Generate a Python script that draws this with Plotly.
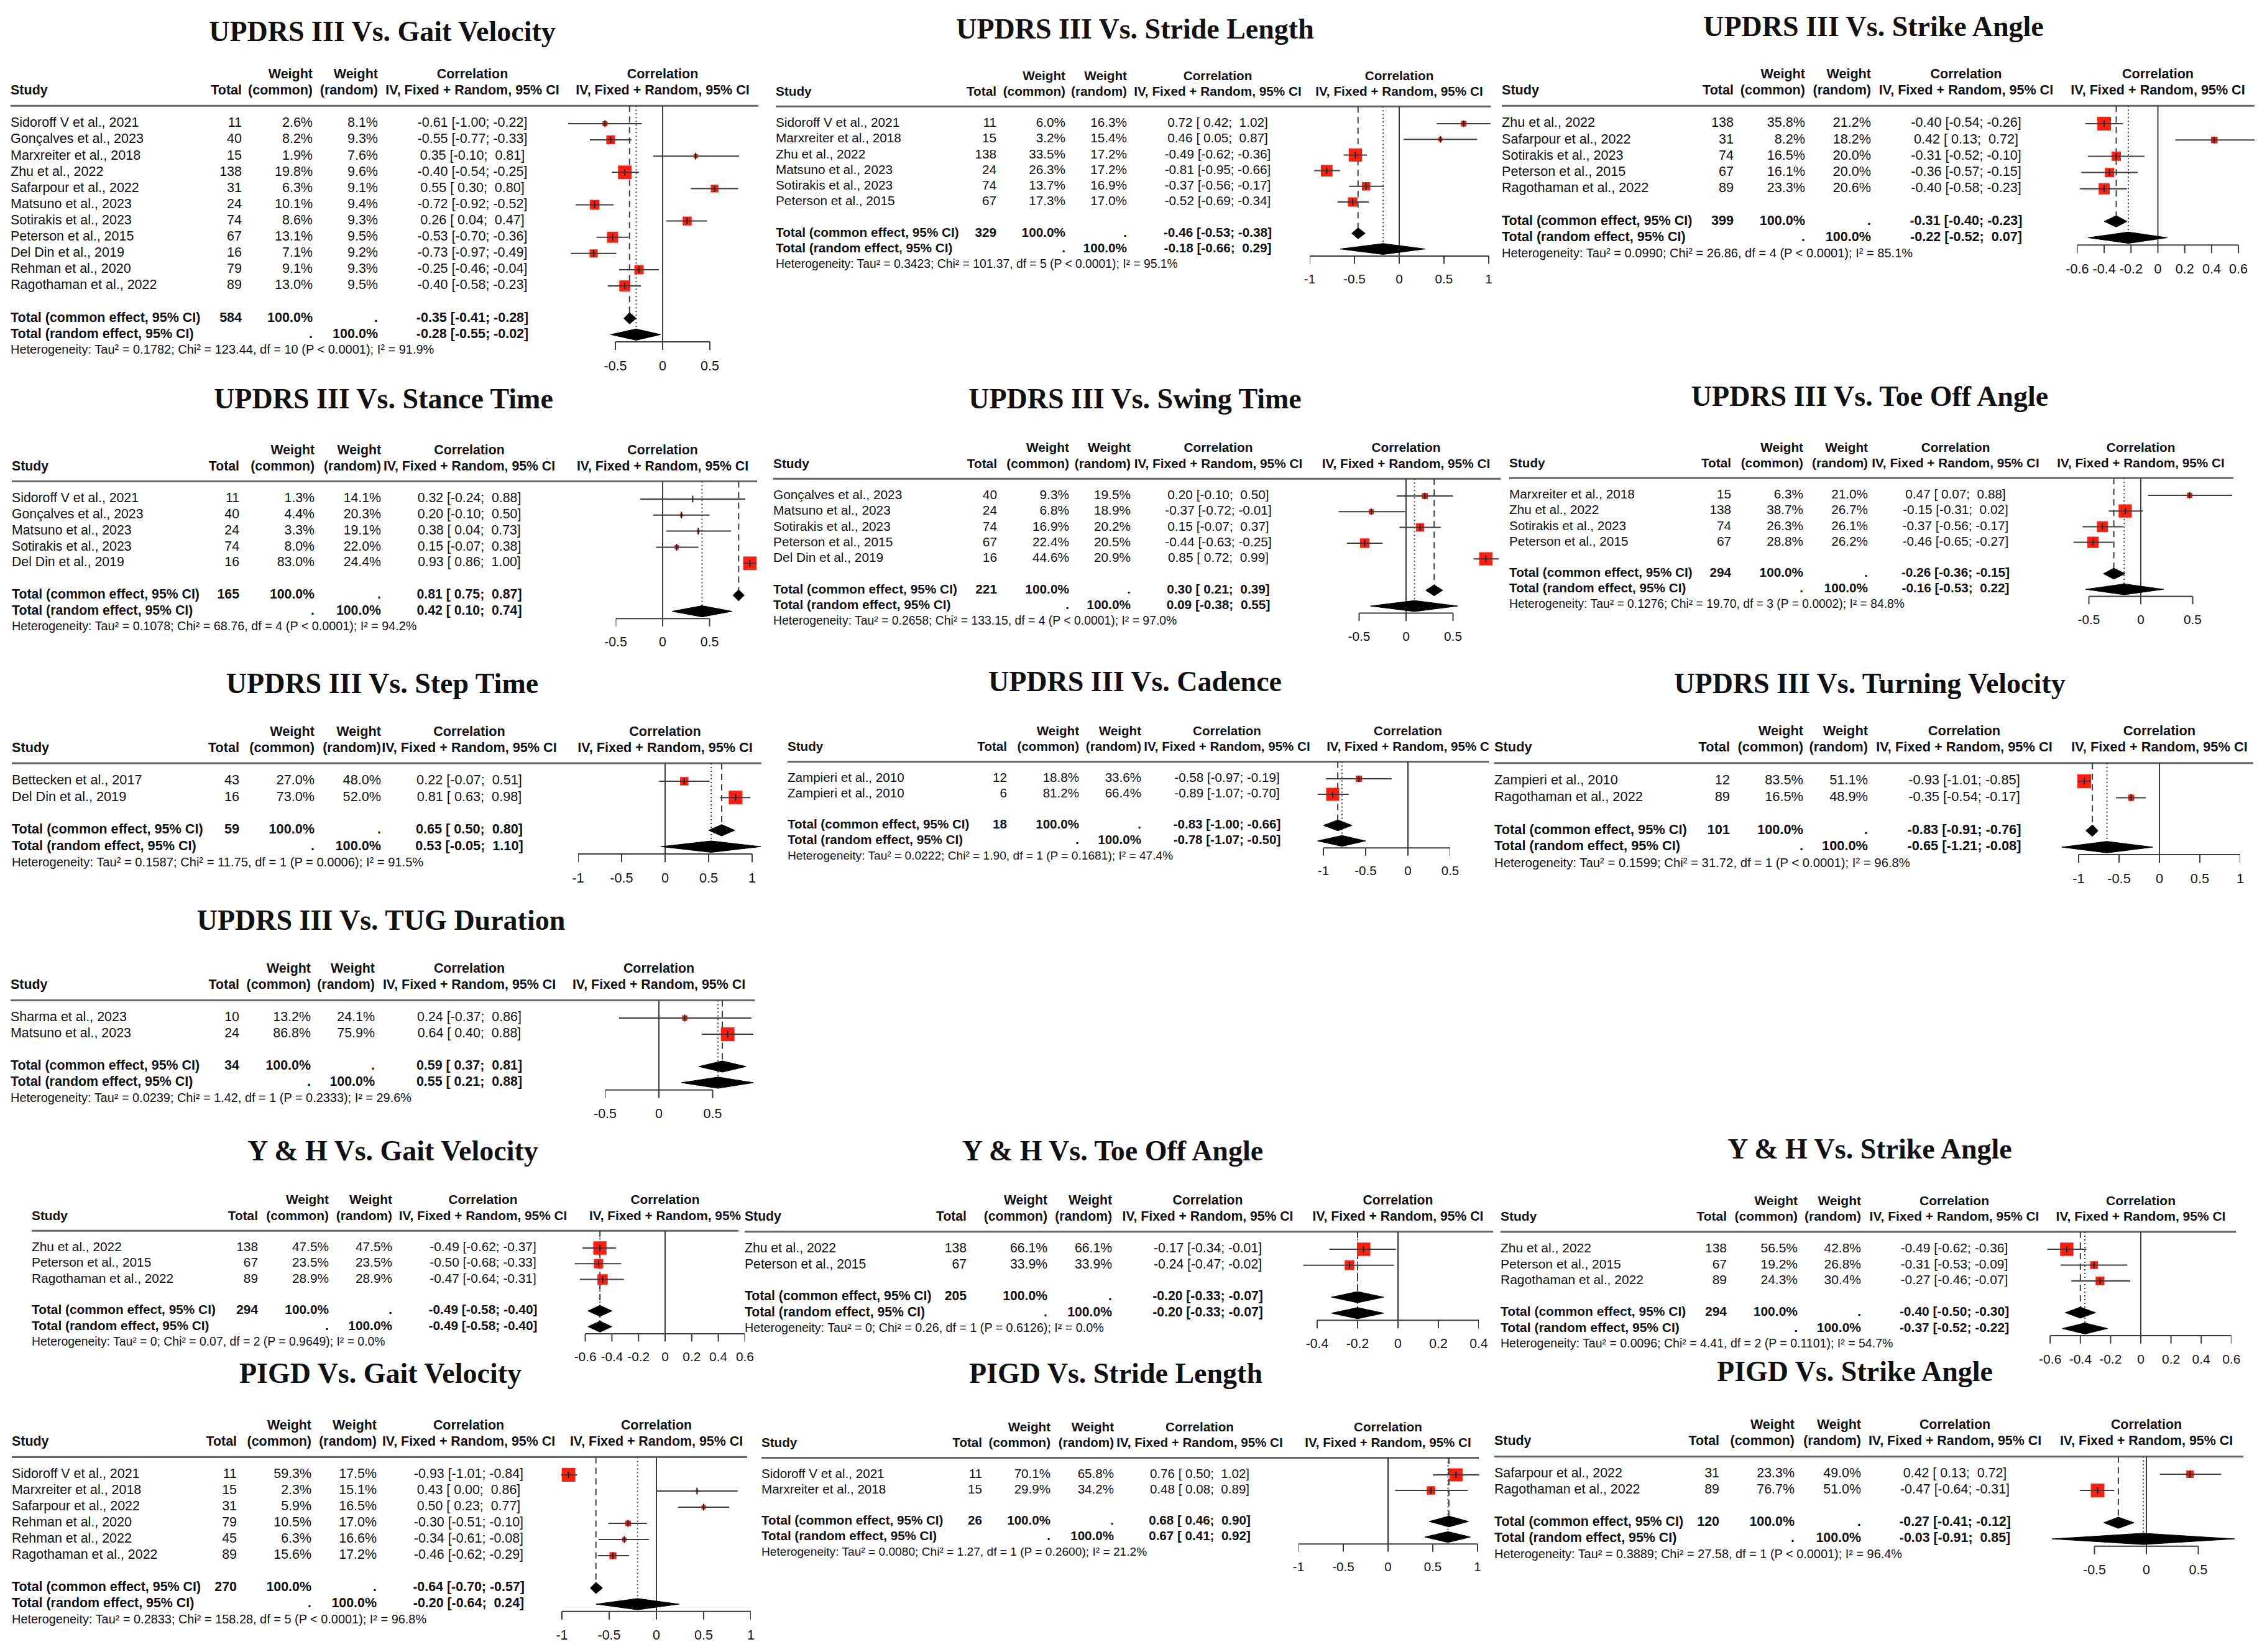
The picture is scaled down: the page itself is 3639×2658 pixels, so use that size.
import plotly.graph_objects as go

FIG_W, FIG_H = 3639, 2658
RED = "rgb(255,30,16)"
INK = "#111111"
GREY = "#3c3c3c"
SANS = "Liberation Sans, Arial, Helvetica, sans-serif"
SERIF = "Liberation Serif, Times New Roman, serif"
IV = "IV, Fixed + Random, 95% CI"

# ============================================================================
# DATA  (pooled = [N, common r, lo, hi, random r, lo, hi])
# ============================================================================

# UPDRS III vs gait velocity
ug_gait_study = ["Sidoroff V et al., 2021", "Gonçalves et al., 2023", "Marxreiter et al., 2018",
                 "Zhu et al., 2022", "Safarpour et al., 2022", "Matsuno et al., 2023",
                 "Sotirakis et al., 2023", "Peterson et al., 2015", "Del Din et al., 2019",
                 "Rehman et al., 2020", "Ragothaman et al., 2022"]
ug_gait_total = [11, 40, 15, 138, 31, 24, 74, 67, 16, 79, 89]
ug_gait_wc = [2.6, 8.2, 1.9, 19.8, 6.3, 10.1, 8.6, 13.1, 7.1, 9.1, 13.0]
ug_gait_wr = [8.1, 9.3, 7.6, 9.6, 9.1, 9.4, 9.3, 9.5, 9.2, 9.3, 9.5]
ug_gait_r = [-0.61, -0.55, 0.35, -0.40, 0.55, -0.72, 0.26, -0.53, -0.73, -0.25, -0.40]
ug_gait_lo = [-1.00, -0.77, -0.10, -0.54, 0.30, -0.92, 0.04, -0.70, -0.97, -0.46, -0.58]
ug_gait_hi = [-0.22, -0.33, 0.81, -0.25, 0.80, -0.52, 0.47, -0.36, -0.49, -0.04, -0.23]
ug_gait_pooled = [584, -0.35, -0.41, -0.28, -0.28, -0.55, -0.02]
ug_gait_het = ["0.1782", "123.44", "10", "P &lt; 0.0001", "91.9%"]
ug_gait_ticks = [-0.5, 0, 0.5]

# UPDRS III vs stride length
ug_stride_study = ["Sidoroff V et al., 2021", "Marxreiter et al., 2018", "Zhu et al., 2022",
                   "Matsuno et al., 2023", "Sotirakis et al., 2023", "Peterson et al., 2015"]
ug_stride_total = [11, 15, 138, 24, 74, 67]
ug_stride_wc = [6.0, 3.2, 33.5, 26.3, 13.7, 17.3]
ug_stride_wr = [16.3, 15.4, 17.2, 17.2, 16.9, 17.0]
ug_stride_r = [0.72, 0.46, -0.49, -0.81, -0.37, -0.52]
ug_stride_lo = [0.42, 0.05, -0.62, -0.95, -0.56, -0.69]
ug_stride_hi = [1.02, 0.87, -0.36, -0.66, -0.17, -0.34]
ug_stride_pooled = [329, -0.46, -0.53, -0.38, -0.18, -0.66, 0.29]
ug_stride_het = ["0.3423", "101.37", "5", "P &lt; 0.0001", "95.1%"]
ug_stride_ticks = [-1, -0.5, 0, 0.5, 1]

# UPDRS III vs strike angle
ug_strike_study = ["Zhu et al., 2022", "Safarpour et al., 2022", "Sotirakis et al., 2023",
                   "Peterson et al., 2015", "Ragothaman et al., 2022"]
ug_strike_total = [138, 31, 74, 67, 89]
ug_strike_wc = [35.8, 8.2, 16.5, 16.1, 23.3]
ug_strike_wr = [21.2, 18.2, 20.0, 20.0, 20.6]
ug_strike_r = [-0.40, 0.42, -0.31, -0.36, -0.40]
ug_strike_lo = [-0.54, 0.13, -0.52, -0.57, -0.58]
ug_strike_hi = [-0.26, 0.72, -0.10, -0.15, -0.23]
ug_strike_pooled = [399, -0.31, -0.40, -0.23, -0.22, -0.52, 0.07]
ug_strike_het = ["0.0990", "26.86", "4", "P &lt; 0.0001", "85.1%"]
ug_strike_ticks = [-0.6, -0.4, -0.2, 0, 0.2, 0.4, 0.6]

# UPDRS III vs stance time
ug_stance_study = ["Sidoroff V et al., 2021", "Gonçalves et al., 2023", "Matsuno et al., 2023",
                   "Sotirakis et al., 2023", "Del Din et al., 2019"]
ug_stance_total = [11, 40, 24, 74, 16]
ug_stance_wc = [1.3, 4.4, 3.3, 8.0, 83.0]
ug_stance_wr = [14.1, 20.3, 19.1, 22.0, 24.4]
ug_stance_r = [0.32, 0.20, 0.38, 0.15, 0.93]
ug_stance_lo = [-0.24, -0.10, 0.04, -0.07, 0.86]
ug_stance_hi = [0.88, 0.50, 0.73, 0.38, 1.00]
ug_stance_pooled = [165, 0.81, 0.75, 0.87, 0.42, 0.10, 0.74]
ug_stance_het = ["0.1078", "68.76", "4", "P &lt; 0.0001", "94.2%"]
ug_stance_ticks = [-0.5, 0, 0.5]

# UPDRS III vs swing time
ug_swing_study = ["Gonçalves et al., 2023", "Matsuno et al., 2023", "Sotirakis et al., 2023",
                  "Peterson et al., 2015", "Del Din et al., 2019"]
ug_swing_total = [40, 24, 74, 67, 16]
ug_swing_wc = [9.3, 6.8, 16.9, 22.4, 44.6]
ug_swing_wr = [19.5, 18.9, 20.2, 20.5, 20.9]
ug_swing_r = [0.20, -0.37, 0.15, -0.44, 0.85]
ug_swing_lo = [-0.10, -0.72, -0.07, -0.63, 0.72]
ug_swing_hi = [0.50, -0.01, 0.37, -0.25, 0.99]
ug_swing_pooled = [221, 0.30, 0.21, 0.39, 0.09, -0.38, 0.55]
ug_swing_het = ["0.2658", "133.15", "4", "P &lt; 0.0001", "97.0%"]
ug_swing_ticks = [-0.5, 0, 0.5]

# UPDRS III vs toe off angle
ug_toe_study = ["Marxreiter et al., 2018", "Zhu et al., 2022", "Sotirakis et al., 2023",
                "Peterson et al., 2015"]
ug_toe_total = [15, 138, 74, 67]
ug_toe_wc = [6.3, 38.7, 26.3, 28.8]
ug_toe_wr = [21.0, 26.7, 26.1, 26.2]
ug_toe_r = [0.47, -0.15, -0.37, -0.46]
ug_toe_lo = [0.07, -0.31, -0.56, -0.65]
ug_toe_hi = [0.88, 0.02, -0.17, -0.27]
ug_toe_pooled = [294, -0.26, -0.36, -0.15, -0.16, -0.53, 0.22]
ug_toe_het = ["0.1276", "19.70", "3", "P = 0.0002", "84.8%"]
ug_toe_ticks = [-0.5, 0, 0.5]

# UPDRS III vs step time
ug_step_study = ["Bettecken et al., 2017", "Del Din et al., 2019"]
ug_step_total = [43, 16]
ug_step_wc = [27.0, 73.0]
ug_step_wr = [48.0, 52.0]
ug_step_r = [0.22, 0.81]
ug_step_lo = [-0.07, 0.63]
ug_step_hi = [0.51, 0.98]
ug_step_pooled = [59, 0.65, 0.50, 0.80, 0.53, -0.05, 1.10]
ug_step_het = ["0.1587", "11.75", "1", "P = 0.0006", "91.5%"]
ug_step_ticks = [-1, -0.5, 0, 0.5, 1]

# UPDRS III vs cadence
ug_cad_study = ["Zampieri et al., 2010", "Zampieri et al., 2010"]
ug_cad_total = [12, 6]
ug_cad_wc = [18.8, 81.2]
ug_cad_wr = [33.6, 66.4]
ug_cad_r = [-0.58, -0.89]
ug_cad_lo = [-0.97, -1.07]
ug_cad_hi = [-0.19, -0.70]
ug_cad_pooled = [18, -0.83, -1.00, -0.66, -0.78, -1.07, -0.50]
ug_cad_het = ["0.0222", "1.90", "1", "P = 0.1681", "47.4%"]
ug_cad_ticks = [-1, -0.5, 0, 0.5]

# UPDRS III vs turning velocity
ug_turn_study = ["Zampieri et al., 2010", "Ragothaman et al., 2022"]
ug_turn_total = [12, 89]
ug_turn_wc = [83.5, 16.5]
ug_turn_wr = [51.1, 48.9]
ug_turn_r = [-0.93, -0.35]
ug_turn_lo = [-1.01, -0.54]
ug_turn_hi = [-0.85, -0.17]
ug_turn_pooled = [101, -0.83, -0.91, -0.76, -0.65, -1.21, -0.08]
ug_turn_het = ["0.1599", "31.72", "1", "P &lt; 0.0001", "96.8%"]
ug_turn_ticks = [-1, -0.5, 0, 0.5, 1]

# UPDRS III vs TUG duration
ug_tug_study = ["Sharma et al., 2023", "Matsuno et al., 2023"]
ug_tug_total = [10, 24]
ug_tug_wc = [13.2, 86.8]
ug_tug_wr = [24.1, 75.9]
ug_tug_r = [0.24, 0.64]
ug_tug_lo = [-0.37, 0.40]
ug_tug_hi = [0.86, 0.88]
ug_tug_pooled = [34, 0.59, 0.37, 0.81, 0.55, 0.21, 0.88]
ug_tug_het = ["0.0239", "1.42", "1", "P = 0.2333", "29.6%"]
ug_tug_ticks = [-0.5, 0, 0.5]

# Y & H vs gait velocity
yh_gait_study = ["Zhu et al., 2022", "Peterson et al., 2015", "Ragothaman et al., 2022"]
yh_gait_total = [138, 67, 89]
yh_gait_wc = [47.5, 23.5, 28.9]
yh_gait_wr = [47.5, 23.5, 28.9]
yh_gait_r = [-0.49, -0.50, -0.47]
yh_gait_lo = [-0.62, -0.68, -0.64]
yh_gait_hi = [-0.37, -0.33, -0.31]
yh_gait_pooled = [294, -0.49, -0.58, -0.40, -0.49, -0.58, -0.40]
yh_gait_het = ["0", "0.07", "2", "P = 0.9649", "0.0%"]
yh_gait_ticks = [-0.6, -0.4, -0.2, 0, 0.2, 0.4, 0.6]

# Y & H vs toe off angle
yh_toe_study = ["Zhu et al., 2022", "Peterson et al., 2015"]
yh_toe_total = [138, 67]
yh_toe_wc = [66.1, 33.9]
yh_toe_wr = [66.1, 33.9]
yh_toe_r = [-0.17, -0.24]
yh_toe_lo = [-0.34, -0.47]
yh_toe_hi = [-0.01, -0.02]
yh_toe_pooled = [205, -0.20, -0.33, -0.07, -0.20, -0.33, -0.07]
yh_toe_het = ["0", "0.26", "1", "P = 0.6126", "0.0%"]
yh_toe_ticks = [-0.4, -0.2, 0, 0.2, 0.4]

# Y & H vs strike angle
yh_strike_study = ["Zhu et al., 2022", "Peterson et al., 2015", "Ragothaman et al., 2022"]
yh_strike_total = [138, 67, 89]
yh_strike_wc = [56.5, 19.2, 24.3]
yh_strike_wr = [42.8, 26.8, 30.4]
yh_strike_r = [-0.49, -0.31, -0.27]
yh_strike_lo = [-0.62, -0.53, -0.46]
yh_strike_hi = [-0.36, -0.09, -0.07]
yh_strike_pooled = [294, -0.40, -0.50, -0.30, -0.37, -0.52, -0.22]
yh_strike_het = ["0.0096", "4.41", "2", "P = 0.1101", "54.7%"]
yh_strike_ticks = [-0.6, -0.4, -0.2, 0, 0.2, 0.4, 0.6]

# PIGD vs gait velocity
pg_gait_study = ["Sidoroff V et al., 2021", "Marxreiter et al., 2018", "Safarpour et al., 2022",
                 "Rehman et al., 2020", "Rehman et al., 2022", "Ragothaman et al., 2022"]
pg_gait_total = [11, 15, 31, 79, 45, 89]
pg_gait_wc = [59.3, 2.3, 5.9, 10.5, 6.3, 15.6]
pg_gait_wr = [17.5, 15.1, 16.5, 17.0, 16.6, 17.2]
pg_gait_r = [-0.93, 0.43, 0.50, -0.30, -0.34, -0.46]
pg_gait_lo = [-1.01, 0.00, 0.23, -0.51, -0.61, -0.62]
pg_gait_hi = [-0.84, 0.86, 0.77, -0.10, -0.08, -0.29]
pg_gait_pooled = [270, -0.64, -0.70, -0.57, -0.20, -0.64, 0.24]
pg_gait_het = ["0.2833", "158.28", "5", "P &lt; 0.0001", "96.8%"]
pg_gait_ticks = [-1, -0.5, 0, 0.5, 1]

# PIGD vs stride length
pg_stride_study = ["Sidoroff V et al., 2021", "Marxreiter et al., 2018"]
pg_stride_total = [11, 15]
pg_stride_wc = [70.1, 29.9]
pg_stride_wr = [65.8, 34.2]
pg_stride_r = [0.76, 0.48]
pg_stride_lo = [0.50, 0.08]
pg_stride_hi = [1.02, 0.89]
pg_stride_pooled = [26, 0.68, 0.46, 0.90, 0.67, 0.41, 0.92]
pg_stride_het = ["0.0080", "1.27", "1", "P = 0.2600", "21.2%"]
pg_stride_ticks = [-1, -0.5, 0, 0.5, 1]

# PIGD vs strike angle
pg_strike_study = ["Safarpour et al., 2022", "Ragothaman et al., 2022"]
pg_strike_total = [31, 89]
pg_strike_wc = [23.3, 76.7]
pg_strike_wr = [49.0, 51.0]
pg_strike_r = [0.42, -0.47]
pg_strike_lo = [0.13, -0.64]
pg_strike_hi = [0.72, -0.31]
pg_strike_pooled = [120, -0.27, -0.41, -0.12, -0.03, -0.91, 0.85]
pg_strike_het = ["0.3889", "27.58", "1", "P &lt; 0.0001", "96.4%"]
pg_strike_ticks = [-0.5, 0, 0.5]


# ============================================================================
# HELPERS
# ============================================================================

def corr_text(r, lo, hi):
    def pad(v):
        s = f"{v:.2f}"
        return s if v < 0 else "\u00a0" + s
    return f"{r:.2f} [{pad(lo)}; {pad(hi)}]"


def add_text(fig, xa, ya, xs, ys, texts, pos, size, family=SANS):
    fig.add_trace(go.Scatter(
        x=xs, y=ys, text=texts, mode="text", textposition=pos,
        textfont=dict(family=family, size=size, color=INK),
        xaxis=xa, yaxis=ya, hoverinfo="skip", showlegend=False, cliponaxis=False))


def add_line(fig, xa, ya, xs, ys, width, color, dash="solid"):
    fig.add_trace(go.Scatter(
        x=xs, y=ys, mode="lines", line=dict(width=width, color=color, dash=dash),
        xaxis=xa, yaxis=ya, hoverinfo="skip", showlegend=False, cliponaxis=False))


def b(s):
    return f"<b>{s}</b>"


def add_panel(fig, k, title, study, total, wc, wr, r, lo, hi, pooled, het, ticks, g, iv_head=IV):
    n = len(study)
    N, c_r, c_lo, c_hi, r_r, r_lo, r_hi = pooled
    y0, h = g["y0"], g["h"]
    fs = 21.5 * h / 26.1
    ya = "y" if k == 1 else f"y{k}"
    xf = f"x{k + 1}"

    # row axis (rows grow downwards) and forest value axis
    r_top, r_bot = -6.8, n + 4.7
    top_px, bot_px = y0 + r_top * h, y0 + r_bot * h
    fig.update_layout(**{("yaxis" if k == 1 else f"yaxis{k}"): dict(
        domain=[1 - bot_px / FIG_H, 1 - top_px / FIG_H], range=[r_bot, r_top],
        visible=False, anchor="x", fixedrange=True)})
    vmin = min(min(lo), c_lo, r_lo, ticks[0])
    vmax = max(max(hi), c_hi, r_hi, ticks[-1])
    fig.update_layout(**{f"xaxis{k + 1}": dict(
        domain=[(g["zero"] + vmin * g["ppu"]) / FIG_W, (g["zero"] + vmax * g["ppu"]) / FIG_W],
        range=[vmin, vmax], visible=False, anchor=ya, fixedrange=True)})

    rows = list(range(n))
    row_c, row_r = n + 1, n + 2
    axis_row = n + 2.45

    # reference lines and heading rule
    add_line(fig, xf, ya, [0, 0], [-1.1, axis_row], 2, GREY)
    add_line(fig, xf, ya, [c_r, c_r], [-1.1, row_c], 2, GREY, "10px,7px")
    add_line(fig, xf, ya, [r_r, r_r], [-1.1, row_r], 2, GREY, "2px,4px")
    add_line(fig, "x", ya, [g["left"], g["rule"]], [-1.1, -1.1], 3, "#666666")

    # study squares, CIs and point ticks
    wmax = max(wc)
    sizes = [0.84 * h * (w / wmax) ** 0.5 for w in wc]
    fig.add_trace(go.Scatter(
        x=r, y=rows, mode="markers",
        marker=dict(symbol="square", size=sizes, color=RED, opacity=1, line=dict(width=0)),
        xaxis=xf, yaxis=ya, hoverinfo="skip", showlegend=False))
    xs, ys = [], []
    for i in rows:
        xs += [lo[i], hi[i], None]
        ys += [i, i, None]
    add_line(fig, xf, ya, xs, ys, 2, GREY)
    fig.add_trace(go.Scatter(
        x=r, y=rows, mode="markers",
        marker=dict(symbol="line-ns", size=0.3 * h, opacity=1, line=dict(width=2, color="#222222")),
        xaxis=xf, yaxis=ya, hoverinfo="skip", showlegend=False))

    # pooled diamonds
    for e, a, c, row in [(c_r, c_lo, c_hi, row_c), (r_r, r_lo, r_hi, row_r)]:
        fig.add_trace(go.Scatter(
            x=[a, e, c, e, a], y=[row, row - 0.35, row, row + 0.35, row],
            mode="lines", fill="toself", fillcolor="black", line=dict(width=1, color="black"),
            xaxis=xf, yaxis=ya, hoverinfo="skip", showlegend=False, cliponaxis=False))

    # value axis
    xs = [ticks[0], ticks[-1], None]
    ys = [axis_row, axis_row, None]
    for t in ticks:
        xs += [t, t, None]
        ys += [axis_row, axis_row + 0.5, None]
    add_line(fig, xf, ya, xs, ys, 2, GREY)
    add_text(fig, xf, ya, ticks, [n + 4] * len(ticks), [f"{t:g}" for t in ticks], "middle center", fs)

    # table columns
    yrows = rows + [row_c, row_r]
    add_text(fig, "x", ya, [g["left"]] * (n + 3), [-2] + yrows,
             [b("Study")] + study + [b("Total (common effect, 95% CI)"), b("Total (random effect, 95% CI)")],
             "middle right", fs)
    add_text(fig, "x", ya, [g["tot"]] * (n + 2), [-2] + rows + [row_c],
             [b("Total")] + [str(v) for v in total] + [b(str(N))], "middle left", fs)
    add_text(fig, "x", ya, [g["wc"]] * (n + 4), [-3, -2] + yrows,
             [b("Weight"), b("(common)")] + [f"{v:.1f}%" for v in wc] + [b("100.0%"), b(".")],
             "middle left", fs)
    add_text(fig, "x", ya, [g["wr"]] * (n + 4), [-3, -2] + yrows,
             [b("Weight"), b("(random)")] + [f"{v:.1f}%" for v in wr] + [b("."), b("100.0%")],
             "middle left", fs)
    add_text(fig, "x", ya, [g["corr"]] * (n + 4), [-3, -2] + yrows,
             [b("Correlation"), b(IV)] + [corr_text(*v) for v in zip(r, lo, hi)]
             + [b(corr_text(c_r, c_lo, c_hi)), b(corr_text(r_r, r_lo, r_hi))],
             "middle center", fs)
    add_text(fig, xf, ya, [0, 0], [-3, -2], [b("Correlation"), b(iv_head)], "middle center", fs)

    tau2, chi2, df, p, i2 = het
    add_text(fig, "x", ya, [g["left"]], [n + 3],
             [f"Heterogeneity: Tau² = {tau2}; Chi² = {chi2}, df = {df} ({p}); I² = {i2}"],
             "middle right", 20 * h / 26.1)

    add_text(fig, "x", ya, [g["tx"]], [(g["ty"] - y0) / h], [b(title)], "middle center", 46, SERIF)


def geom(y0, h, left, tot, wc, wr, corr, zero, ppu, rule, tx, ty):
    return dict(y0=y0, h=h, left=left, tot=tot, wc=wc, wr=wr, corr=corr,
                zero=zero, ppu=ppu, rule=rule, tx=tx, ty=ty)


PANELS = [
    ("UPDRS III Vs. Gait Velocity", ug_gait_study, ug_gait_total, ug_gait_wc, ug_gait_wr, ug_gait_r,
     ug_gait_lo, ug_gait_hi, ug_gait_pooled, ug_gait_het, ug_gait_ticks,
     geom(199, 26.1, 17, 389, 503, 608, 760, 1066, 152, 1220, 615, 54), IV),
    ("UPDRS III Vs. Stride Length", ug_stride_study, ug_stride_total, ug_stride_wc, ug_stride_wr,
     ug_stride_r, ug_stride_lo, ug_stride_hi, ug_stride_pooled, ug_stride_het, ug_stride_ticks,
     geom(199, 25.2, 1248, 1603, 1714, 1813, 1959, 2251, 144, 2398, 1826, 50), IV),
    ("UPDRS III Vs. Strike Angle", ug_strike_study, ug_strike_total, ug_strike_wc, ug_strike_wr,
     ug_strike_r, ug_strike_lo, ug_strike_hi, ug_strike_pooled, ug_strike_het, ug_strike_ticks,
     geom(199, 26.2, 2416, 2789, 2904, 3010, 3163, 3471.5, 216, 3627, 3014, 46), IV),
    ("UPDRS III Vs. Stance Time", ug_stance_study, ug_stance_total, ug_stance_wc, ug_stance_wr,
     ug_stance_r, ug_stance_lo, ug_stance_hi, ug_stance_pooled, ug_stance_het, ug_stance_ticks,
     geom(803, 25.8, 19, 385, 506, 613, 755, 1066, 151, 1218, 617, 645), IV),
    ("UPDRS III Vs. Swing Time", ug_swing_study, ug_swing_total, ug_swing_wc, ug_swing_wr,
     ug_swing_r, ug_swing_lo, ug_swing_hi, ug_swing_pooled, ug_swing_het, ug_swing_ticks,
     geom(798, 25.3, 1244, 1604, 1720, 1819, 1960, 2262, 151, 2414, 1826, 645), IV),
    ("UPDRS III Vs. Toe Off Angle", ug_toe_study, ug_toe_total, ug_toe_wc, ug_toe_wr,
     ug_toe_r, ug_toe_lo, ug_toe_hi, ug_toe_pooled, ug_toe_het, ug_toe_ticks,
     geom(797, 25.2, 2428, 2785, 2901, 3005, 3146, 3444, 167, 3593, 3008, 641), IV),
    ("UPDRS III Vs. Step Time", ug_step_study, ug_step_total, ug_step_wc, ug_step_wr,
     ug_step_r, ug_step_lo, ug_step_hi, ug_step_pooled, ug_step_het, ug_step_ticks,
     geom(1257, 26.3, 19, 385, 506, 613, 755, 1070, 140, 1225, 615, 1103), IV),
    ("UPDRS III Vs. Cadence", ug_cad_study, ug_cad_total, ug_cad_wc, ug_cad_wr,
     ug_cad_r, ug_cad_lo, ug_cad_hi, ug_cad_pooled, ug_cad_het, ug_cad_ticks,
     geom(1253, 25.0, 1267, 1620, 1736, 1836, 1974, 2265, 136, 2395, 1826, 1100),
     "IV, Fixed + Random, 95% C"),
    ("UPDRS III Vs. Turning Velocity", ug_turn_study, ug_turn_total, ug_turn_wc, ug_turn_wr,
     ug_turn_r, ug_turn_lo, ug_turn_hi, ug_turn_pooled, ug_turn_het, ug_turn_ticks,
     geom(1257, 26.5, 2404, 2783, 2901, 3005, 3160, 3474, 130, 3625, 3008, 1103), IV),
    ("UPDRS III Vs. TUG Duration", ug_tug_study, ug_tug_total, ug_tug_wc, ug_tug_wr,
     ug_tug_r, ug_tug_lo, ug_tug_hi, ug_tug_pooled, ug_tug_het, ug_tug_ticks,
     geom(1638, 26.0, 17, 385, 500, 603, 755, 1060, 173, 1214, 613, 1484), IV),
    ("Y &amp; H Vs. Gait Velocity", yh_gait_study, yh_gait_total, yh_gait_wc, yh_gait_wr,
     yh_gait_r, yh_gait_lo, yh_gait_hi, yh_gait_pooled, yh_gait_het, yh_gait_ticks,
     geom(2008, 25.3, 51, 415, 529, 631, 777, 1070, 214, 1188, 632, 1855),
     "IV, Fixed + Random, 95%"),
    ("Y &amp; H Vs. Toe Off Angle", yh_toe_study, yh_toe_total, yh_toe_wc, yh_toe_wr,
     yh_toe_r, yh_toe_lo, yh_toe_hi, yh_toe_pooled, yh_toe_het, yh_toe_ticks,
     geom(2010, 25.7, 1198, 1555, 1685, 1789, 1943, 2249, 325, 2402, 1790, 1855), IV),
    ("Y &amp; H Vs. Strike Angle", yh_strike_study, yh_strike_total, yh_strike_wc, yh_strike_wr,
     yh_strike_r, yh_strike_lo, yh_strike_hi, yh_strike_pooled, yh_strike_het, yh_strike_ticks,
     geom(2010, 25.5, 2414, 2778, 2892, 2994, 3144, 3444, 243, 3597, 3008, 1852), IV),
    ("PIGD Vs. Gait Velocity", pg_gait_study, pg_gait_total, pg_gait_wc, pg_gait_wr,
     pg_gait_r, pg_gait_lo, pg_gait_hi, pg_gait_pooled, pg_gait_het, pg_gait_ticks,
     geom(2373, 26.0, 19, 381, 501, 606, 754, 1056, 152, 1202, 612, 2213), IV),
    ("PIGD Vs. Stride Length", pg_stride_study, pg_stride_total, pg_stride_wc, pg_stride_wr,
     pg_stride_r, pg_stride_lo, pg_stride_hi, pg_stride_pooled, pg_stride_het, pg_stride_ticks,
     geom(2373, 25.0, 1225, 1580, 1690, 1792, 1930, 2233, 144, 2379, 1795, 2213), IV),
    ("PIGD Vs. Strike Angle", pg_strike_study, pg_strike_total, pg_strike_wc, pg_strike_wr,
     pg_strike_r, pg_strike_lo, pg_strike_hi, pg_strike_pooled, pg_strike_het, pg_strike_ticks,
     geom(2372, 26.0, 2404, 2766, 2887, 2994, 3145, 3453, 167, 3609, 2984, 2210), IV),
]


# ============================================================================
# FIGURE
# ============================================================================

fig = go.Figure()
fig.update_layout(
    width=FIG_W, height=FIG_H, autosize=False,
    margin=dict(l=0, r=0, t=0, b=0),
    paper_bgcolor="white", plot_bgcolor="rgba(0,0,0,0)",
    showlegend=False,
    xaxis=dict(domain=[0, 1], range=[0, FIG_W], visible=False, fixedrange=True),
)

for k, spec in enumerate(PANELS, start=1):
    add_panel(fig, k, *spec)

fig.write_html("out.html", post_script="document.body.style.margin='0';",
               config={"displayModeBar": False})
